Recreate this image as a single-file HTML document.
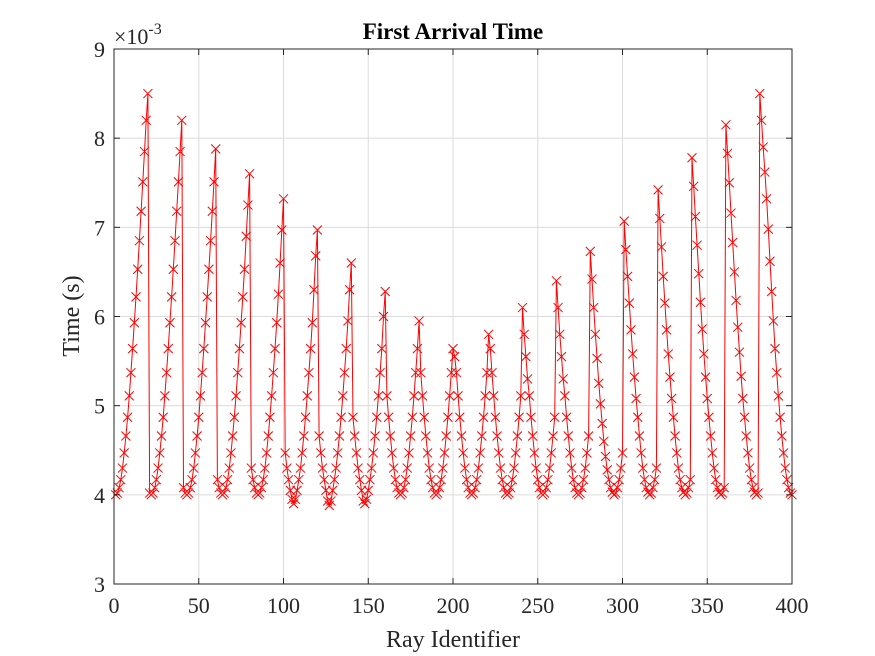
<!DOCTYPE html>
<html><head><meta charset="utf-8"><style>
body{margin:0;background:#fff;}
svg{display:block;font-family:"Liberation Serif",serif;}
</style></head><body>
<svg id="chart" width="875" height="656" xmlns="http://www.w3.org/2000/svg">
<rect x="0" y="0" width="875" height="656" fill="#fff"/>
<g id="grid"></g>
<g id="series"></g>
<g id="axes"></g>
<text x="453" y="39" text-anchor="middle" font-size="23" font-weight="bold">First Arrival Time</text>
<text x="114" y="44" font-size="22" fill="#262626">×10<tspan dy="-10" font-size="16">-3</tspan></text>
<text x="453" y="647" text-anchor="middle" font-size="24" fill="#262626">Ray Identifier</text>
<text transform="translate(79,316) rotate(-90)" text-anchor="middle" font-size="24" fill="#262626">Time (s)</text>
</svg>
<script>
const xTicks = [0,50,100,150,200,250,300,350,400];
const yTicks = [3,4,5,6,7,8,9];
// first arrival times (x1e-3 s) for rays 1..400
const arrivalTimes = [
4.00,4.02,4.08,4.17,4.30,4.47,4.66,4.87,5.11,5.37,5.64,5.93,6.22,6.53,6.85,7.18,7.51,7.85,8.20,8.50,
4.02,4.00,4.02,4.08,4.17,4.30,4.47,4.66,4.87,5.11,5.37,5.64,5.93,6.22,6.53,6.85,7.18,7.51,7.85,8.20,
4.08,4.02,4.00,4.02,4.08,4.17,4.30,4.47,4.66,4.87,5.11,5.37,5.64,5.93,6.22,6.53,6.85,7.18,7.51,7.88,
4.17,4.08,4.02,4.00,4.02,4.08,4.17,4.30,4.47,4.66,4.87,5.11,5.37,5.64,5.93,6.22,6.53,6.90,7.25,7.60,
4.30,4.17,4.08,4.02,4.00,4.02,4.08,4.17,4.30,4.47,4.66,4.87,5.11,5.37,5.64,5.93,6.25,6.60,6.97,7.32,
4.47,4.30,4.17,4.05,3.95,3.90,3.95,4.05,4.17,4.30,4.47,4.66,4.87,5.11,5.37,5.64,5.93,6.30,6.68,6.97,
4.66,4.47,4.30,4.17,4.05,3.93,3.88,3.93,4.05,4.17,4.30,4.47,4.66,4.87,5.11,5.37,5.64,5.95,6.30,6.60,
4.87,4.66,4.47,4.30,4.17,4.05,3.93,3.90,3.95,4.05,4.17,4.30,4.47,4.66,4.87,5.11,5.37,5.64,6.00,6.28,
5.11,4.87,4.66,4.47,4.30,4.17,4.08,4.02,4.00,4.02,4.08,4.17,4.30,4.47,4.66,4.87,5.11,5.37,5.64,5.95,
5.37,5.11,4.87,4.66,4.47,4.30,4.17,4.08,4.02,4.00,4.02,4.08,4.17,4.30,4.47,4.66,4.87,5.11,5.37,5.64,
5.55,5.37,5.11,4.87,4.66,4.47,4.30,4.17,4.08,4.02,4.00,4.02,4.08,4.17,4.30,4.47,4.66,4.87,5.11,5.37,
5.80,5.64,5.37,5.11,4.87,4.66,4.47,4.30,4.17,4.08,4.02,4.00,4.02,4.08,4.17,4.30,4.47,4.66,4.87,5.11,
6.10,5.80,5.55,5.30,5.11,4.87,4.66,4.47,4.30,4.17,4.08,4.02,4.00,4.02,4.08,4.17,4.30,4.47,4.66,4.87,
6.40,6.10,5.80,5.55,5.30,5.11,4.87,4.66,4.47,4.30,4.17,4.08,4.02,4.00,4.02,4.08,4.17,4.30,4.47,4.66,
6.73,6.42,6.10,5.80,5.53,5.25,5.02,4.80,4.60,4.43,4.28,4.17,4.08,4.03,4.00,4.02,4.08,4.17,4.30,4.47,
7.07,6.75,6.45,6.15,5.85,5.58,5.32,5.08,4.87,4.66,4.47,4.30,4.17,4.08,4.03,4.00,4.02,4.08,4.17,4.30,
7.42,7.10,6.78,6.45,6.15,5.85,5.58,5.32,5.08,4.87,4.66,4.47,4.30,4.17,4.08,4.03,4.00,4.02,4.08,4.17,
7.78,7.46,7.12,6.80,6.48,6.16,5.86,5.58,5.32,5.08,4.87,4.66,4.47,4.30,4.17,4.08,4.03,4.00,4.02,4.08,
8.15,7.83,7.50,7.16,6.83,6.50,6.18,5.88,5.60,5.33,5.08,4.87,4.66,4.47,4.30,4.17,4.08,4.03,4.00,4.02,
8.50,8.20,7.90,7.62,7.32,6.98,6.62,6.28,5.95,5.64,5.37,5.11,4.87,4.66,4.47,4.30,4.17,4.08,4.02,4.00
];
const rayIds = arrivalTimes.map((_, i) => i + 1);

const NS = "http://www.w3.org/2000/svg";
const X0 = 114, X1 = 792, Y0 = 584, Y1 = 49;
const xScale = v => X0 + (v - 0) / 400 * (X1 - X0);
const yScale = v => Y0 - (v - 3) / 6 * (Y0 - Y1);
function mk(tag, attrs, parent) {
  const e = document.createElementNS(NS, tag);
  for (const k in attrs) e.setAttribute(k, attrs[k]);
  parent.appendChild(e);
  return e;
}
const grid = document.getElementById('grid');
const axes = document.getElementById('axes');
const series = document.getElementById('series');

xTicks.forEach(t => {
  const x = xScale(t);
  const g = mk('line', {x1:x, x2:x, y1:Y1, y2:Y0, stroke:'#dcdcdc', 'stroke-width':1}, grid);
  
  
  const tk = mk('line', {x1:x, x2:x, y1:Y0, y2:Y0-6, stroke:'#262626'}, axes);
  
  
  const tk2 = mk('line', {x1:x, x2:x, y1:Y1, y2:Y1+6, stroke:'#262626'}, axes);
  
  
  const lb = mk('text', {x:x, y:613, 'text-anchor':'middle', 'font-size':22, fill:'#262626'}, axes);
  lb.textContent = t;
  
  
});
yTicks.forEach(t => {
  const y = yScale(t);
  const g = mk('line', {x1:X0, x2:X1, y1:y, y2:y, stroke:'#dcdcdc', 'stroke-width':1}, grid);
  
  
  const tk = mk('line', {x1:X0, x2:X0+6, y1:y, y2:y, stroke:'#262626'}, axes);
  
  
  const tk2 = mk('line', {x1:X1, x2:X1-6, y1:y, y2:y, stroke:'#262626'}, axes);
  
  
  const lb = mk('text', {x:X0-9, y:y+8, 'text-anchor':'end', 'font-size':22, fill:'#262626'}, axes);
  lb.textContent = t;
  
  
});
const box = mk('rect', {x:X0, y:Y1, width:X1-X0, height:Y0-Y1, fill:'none', stroke:'#262626', 'stroke-width':1}, axes);



const pts = rayIds.map((r, i) => xScale(r).toFixed(1) + ',' + yScale(arrivalTimes[i]).toFixed(1)).join(' ');
const line = mk('polyline', {points:pts, fill:'none', stroke:'#ff0000', 'stroke-width':1}, series);


let d = '';
const s = 4.5;
rayIds.forEach((r, i) => {
  const x = xScale(r), y = yScale(arrivalTimes[i]);
  d += `M${x-s},${y-s}L${x+s},${y+s}M${x-s},${y+s}L${x+s},${y-s}`;
});
const marks = mk('path', {d:d, stroke:'#ff0000', 'stroke-width':1, fill:'none'}, series);


</script>
</body></html>
